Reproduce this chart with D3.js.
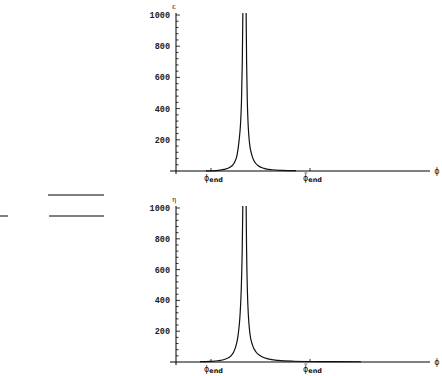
<!DOCTYPE html>
<html>
<head>
<meta charset="utf-8">
<script src="https://cdn.jsdelivr.net/npm/d3@7"></script>
<style>
  body { margin: 0; background: #fff; }
  svg { display: block; }
</style>
</head>
<body>
<div id="graph"></div>
<script>
// Values (x in plot units, y = curve value)
const yTicks = [200, 400, 600, 800, 1000]
const xTickPos = [35, 134]
const xTickNames = ['end', 'end']

// top panel (epsilon): branch left of the pole and right of it
const epsLeftX = [30, 40, 48, 54, 58, 61, 63, 64.5, 65.5, 66.3, 67]
const epsLeftY = [1, 3, 10, 24, 50, 100, 190, 300, 450, 700, 1100]
const epsRightX = [70, 70.6, 71.3, 72.2, 73.5, 75.5, 78, 82, 88, 96, 106, 120]
const epsRightY = [1100, 700, 450, 290, 180, 110, 65, 35, 17, 8, 4, 2]

// bottom panel (eta)
const etaLeftX = [24, 34, 42, 49, 55, 59, 62, 64, 65.3, 66.2, 67]
const etaLeftY = [2, 4, 8, 18, 40, 85, 170, 300, 480, 720, 1100]
const etaRightX = [70, 70.6, 71.4, 72.4, 74, 76.5, 80, 85, 92, 102, 118, 145, 185]
const etaRightY = [1100, 720, 460, 300, 180, 110, 65, 38, 20, 10, 5, 2.5, 1.5]

const W = 442, H = 376
const svg = d3.select('#graph').append('svg')
  .attr('width', W).attr('height', H)

const x = d3.scaleLinear().domain([-6, 254]).range([170, 430])

const panels = [
  { name: 'ε', y0: 171, y1: 15, left: [epsLeftX, epsLeftY], right: [epsRightX, epsRightY] },
  { name: 'η', y0: 362, y1: 208, left: [etaLeftX, etaLeftY], right: [etaRightX, etaRightY] }
]

const mono = "'Liberation Mono', 'DejaVu Sans Mono', monospace"

panels.forEach((p, k) => {
  const y = d3.scaleLinear().domain([0, 1000]).range([p.y0, p.y1])
  const g = svg.append('g')

  g.append('clipPath').attr('id', 'clip' + k)
    .append('rect')
    .attr('x', x(-6)).attr('y', y(1013))
    .attr('width', x(254) - x(-6)).attr('height', y(0) - y(1013) + 2)

  // axes
  g.append('line')
    .attr('x1', x(-6)).attr('x2', x(254))
    .attr('y1', y(0)).attr('y2', y(0))
    .attr('stroke', '#000').attr('stroke-width', 1)
  g.append('line')
    .attr('x1', x(0)).attr('x2', x(0))
    .attr('y1', y(0) + 3).attr('y2', y(1013))
    .attr('stroke', '#000').attr('stroke-width', 1)

  // minor + major ticks on the y axis
  d3.range(40, 1001, 40).forEach(v => {
    const major = v % 200 === 0
    g.append('line')
      .attr('x1', x(0)).attr('x2', x(0) + (major ? 4 : 2.5))
      .attr('y1', y(v)).attr('y2', y(v))
      .attr('stroke', '#000').attr('stroke-width', 0.8)
  })
  g.selectAll('.ylab').data(yTicks).join('text')
    .attr('x', x(0) - 6).attr('y', d => y(d) + 3)
    .attr('text-anchor', 'end')
    .style('font-family', mono).style('font-size', '8.5px').style('font-weight', 'bold')
    .attr('fill', '#222')
    .text(d => d)

  // x ticks
  xTickPos.forEach((v, i) => {
    g.append('line')
      .attr('x1', x(v)).attr('x2', x(v))
      .attr('y1', y(0)).attr('y2', y(0) - 3)
      .attr('stroke', '#000').attr('stroke-width', 0.8)
    const t = g.append('text')
      .attr('x', x(v) - 7).attr('y', y(0) + 9.5)
      .style('font-family', 'DejaVu Sans, sans-serif').style('font-size', '8px')
      .attr('fill', '#111')
    t.append('tspan').text(i === 0 ? 'ϕ' : 'ϕ\u0303')
    t.append('tspan').attr('dy', 1.5).style('font-size', '6.5px').style('font-weight', 'bold')
      .text(xTickNames[i])
  })

  // axis names
  g.append('text')
    .attr('x', x(0) - 4).attr('y', y(1013) - 4)
    .style('font-family', 'DejaVu Serif, serif').style('font-size', '7px')
    .attr('fill', '#222')
    .text(p.name)
  g.append('text')
    .attr('x', x(261)).attr('y', y(0) + 3)
    .attr('text-anchor', 'middle')
    .style('font-family', 'DejaVu Sans, sans-serif').style('font-size', '8px')
    .attr('fill', '#222')
    .text('ϕ')

  // curve, both branches of the pole
  const line = d3.line()
    .x(d => x(d[0]))
    .y(d => y(d[1]))
    .curve(d3.curveMonotoneX)
  ;[p.left, p.right].forEach(b => {
    const pts = b[0].map((v, i) => [v, b[1][i]])
    g.append('path')
      .attr('d', line(pts))
      .attr('clip-path', `url(#clip${k})`)
      .attr('fill', 'none')
      .attr('stroke', '#111')
      .attr('stroke-width', 1.2)
  })
})

// stray fraction bars on the left edge of the page
const bars = [[48, 104, 195], [49, 104, 216], [0, 8, 216]]
svg.selectAll('.bar').data(bars).join('line')
  .attr('x1', d => d[0]).attr('x2', d => d[1])
  .attr('y1', d => d[2]).attr('y2', d => d[2])
  .attr('stroke', '#000').attr('stroke-width', 1)
</script>
</body>
</html>
